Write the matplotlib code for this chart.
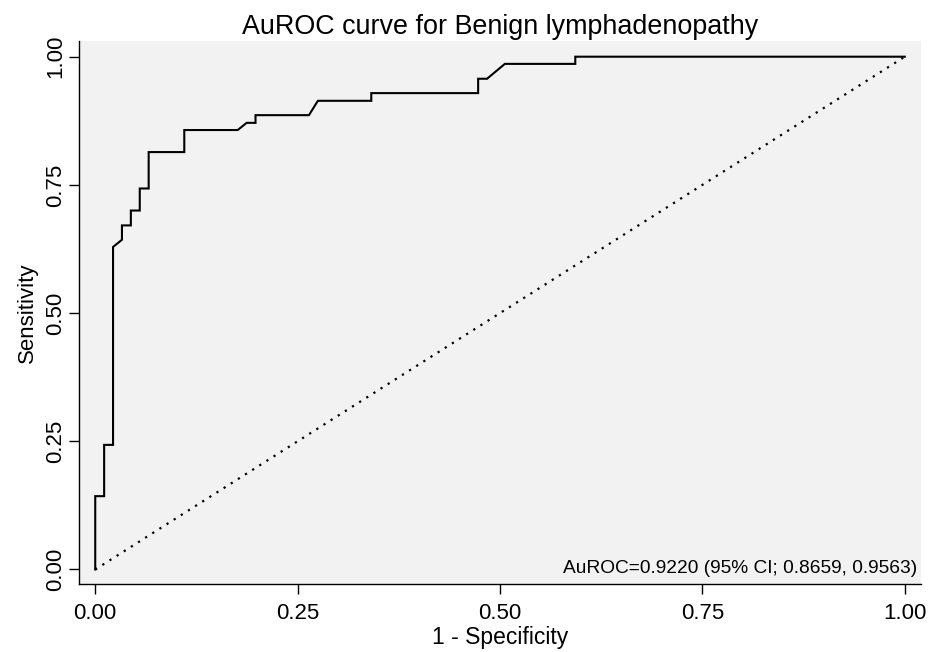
import matplotlib
matplotlib.use("Agg")
import matplotlib.pyplot as plt

plt.rcParams['font.family'] = ['Liberation Sans', 'DejaVu Sans']

# ROC curve (1 - specificity, sensitivity)
fpr = [0.0, 0.0, 0.011, 0.011, 0.022, 0.022, 0.033, 0.033, 0.044, 0.044,
       0.055, 0.055, 0.066, 0.066, 0.110, 0.110, 0.176, 0.187, 0.198, 0.198,
       0.264, 0.275, 0.341, 0.341, 0.473, 0.473, 0.484, 0.506, 0.593, 0.593,
       1.0]
tpr = [0.0, 0.143, 0.143, 0.243, 0.243, 0.629, 0.643, 0.671, 0.671, 0.700,
       0.700, 0.743, 0.743, 0.814, 0.814, 0.857, 0.857, 0.871, 0.871, 0.886,
       0.886, 0.914, 0.914, 0.929, 0.929, 0.957, 0.957, 0.986, 0.986, 1.0,
       1.0]
ref_line = [0.0, 1.0]
ticks = [0.0, 0.25, 0.5, 0.75, 1.0]
tick_labels = ["0.00", "0.25", "0.50", "0.75", "1.00"]

title = "AuROC curve for Benign lymphadenopathy"
note = "AuROC=0.9220 (95% CI; 0.8659, 0.9563)"

fig = plt.figure(figsize=(9.41, 6.52), dpi=100)
ax = fig.add_axes([0.084, 0.1043, 0.8947, 0.8328])
ax.set_facecolor("#f2f2f2")

ax.plot(fpr, tpr, color="black", lw=1.5, solid_joinstyle="miter")
ax.plot(ref_line, ref_line, color="black", lw=1.6, linestyle=(0, (1, 2.8)))

ax.set_xlim(-0.02, 1.02)
ax.set_ylim(-0.0283, 1.0306)
ax.set_xticks(ticks)
ax.set_xticklabels(tick_labels, fontsize=16)
ax.set_yticks(ticks)
ax.set_yticklabels(tick_labels, fontsize=16, rotation=90, va="center")
ax.tick_params(direction="out", length=7, width=1)
ax.tick_params(axis="x", pad=6.5)
ax.tick_params(axis="y", pad=2)

for side in ["top", "right"]:
    ax.spines[side].set_visible(False)
for side in ["left", "bottom"]:
    ax.spines[side].set_linewidth(1)

ax.set_xlabel("1 - Specificity", fontsize=16.5, labelpad=1.5)
ax.set_ylabel("Sensitivity", fontsize=16)
ax.yaxis.set_label_coords(-0.0487, 0.5)
ax.set_title(title, fontsize=19.4, pad=5)

ax.text(0.996, 0.012, note, transform=ax.transAxes, ha="right", va="bottom",
        fontsize=13.8)

fig.savefig("out.png", dpi=100)
